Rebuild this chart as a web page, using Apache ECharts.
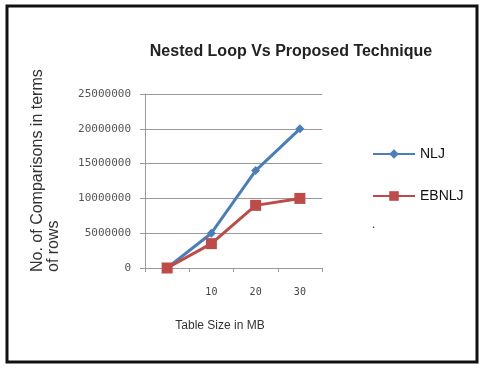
<!DOCTYPE html>
<html>
<head>
<meta charset="utf-8">
<script src="https://cdn.jsdelivr.net/npm/echarts@6/dist/echarts.min.js"></script>
<style>
  html, body { margin: 0; padding: 0; background: #fff; }
  #myChart { width: 483px; height: 370px; }
</style>
</head>
<body>
<div id="myChart"></div>
<script>
// data
const categories = ["", "10", "20", "30"];
const nljValues = [0, 5000000, 14000000, 20000000];
const ebnljValues = [0, 3500000, 9000000, 10000000];

const myChart = echarts.init(document.getElementById("myChart"));
myChart.setOption({
  animation: false,
  title: {
    text: "Nested Loop Vs Proposed Technique",
    left: 286,
    textAlign: "center",
    top: 39,
    textStyle: {
      fontFamily: "Liberation Sans",
      fontWeight: "bold",
      fontSize: 16,
      color: "#222",
    },
  },
  legend: {
    orient: "vertical",
    left: 372,
    top: 147,
    padding: 0,
    itemWidth: 42,
    itemHeight: 12,
    itemGap: 28,
    textStyle: { fontFamily: "Liberation Sans", fontSize: 14, color: "#111" },
    data: ["NLJ", "EBNLJ"],
  },
  grid: { left: 145, right: 161, top: 94, bottom: 102 },
  xAxis: {
    type: "category",
    data: categories,
    boundaryGap: true,
    name: "Table Size in MB",
    nameLocation: "middle",
    nameGap: 52,
    nameTextStyle: { fontFamily: "Liberation Sans", fontSize: 12, color: "#333", padding: [0, 27, 0, 0] },
    axisLine: { lineStyle: { color: "#999" } },
    axisTick: { show: true, length: 4, lineStyle: { color: "#999" } },
    axisLabel: { margin: 19, fontSize: 10, color: "#444", fontFamily: "DejaVu Sans Mono" },
  },
  yAxis: {
    type: "value",
    min: 0,
    max: 25000000,
    interval: 5000000,
    axisLine: { show: true, lineStyle: { color: "#999" } },
    axisTick: { show: true, length: 5, lineStyle: { color: "#999" } },
    splitLine: { lineStyle: { color: "#9a9a9a" } },
    axisLabel: {
      margin: 14,
      fontSize: 11,
      color: "#555",
      fontFamily: "DejaVu Sans Mono",
      formatter: (v) => String(v),
    },
  },
  series: [
    {
      name: "NLJ",
      type: "line",
      data: nljValues,
      symbol: "diamond",
      symbolSize: 9,
      lineStyle: { width: 3, color: "#4a7ebb" },
      itemStyle: { color: "#4a7ebb" },
    },
    {
      name: "EBNLJ",
      type: "line",
      data: ebnljValues,
      symbol: "rect",
      symbolSize: 11,
      lineStyle: { width: 3, color: "#be4b48" },
      itemStyle: { color: "#be4b48" },
    },
  ],
  graphic: [
    {
      type: "rect",
      shape: { x: 7, y: 6, width: 470, height: 356 },
      style: { fill: null, stroke: "#111", lineWidth: 3 },
    },
    {
      type: "text",
      x: 46,
      y: 272,
      rotation: Math.PI / 2,
      style: {
        text: "No. of Comparisons in terms\nof rows",
        fontFamily: "Liberation Sans",
        fontSize: 16,
        lineHeight: 16,
        fill: "#333",
        textAlign: "left",
        textVerticalAlign: "middle",
      },
    },
    {
      type: "text",
      x: 372,
      y: 219,
      style: { text: ".", fontSize: 12, fill: "#333" },
    },
  ],
});
</script>
</body>
</html>
